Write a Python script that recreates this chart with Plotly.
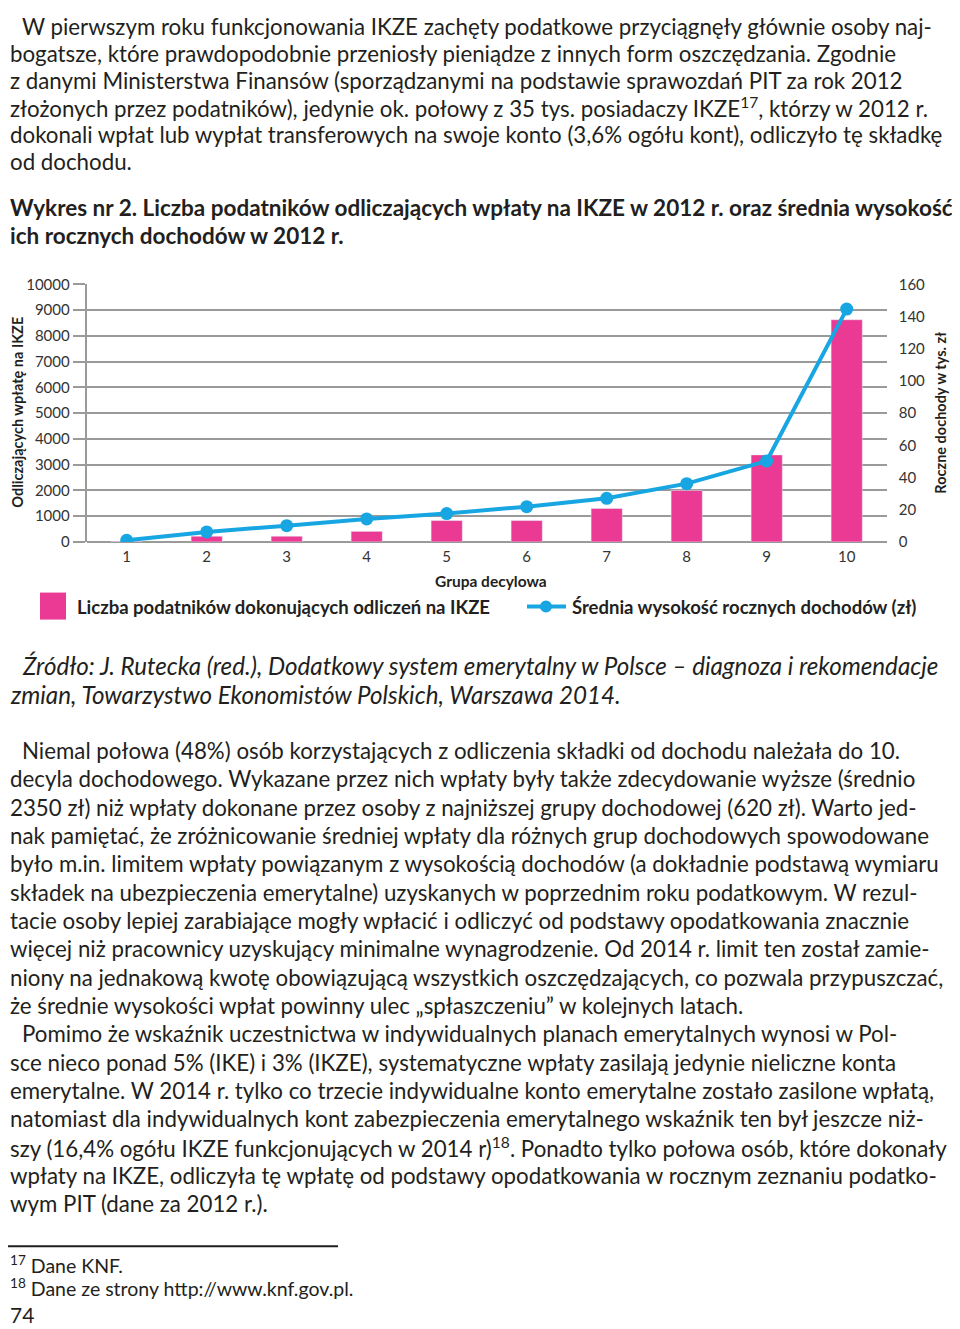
import plotly.graph_objects as go

# Page coordinates below are pixels of the reference picture; they are mapped
# to paper coordinates (the page adds an 8px left offset and the photographed
# page is offset/compressed slightly in the vertical direction).
W, H = 952, 1329
X_OFF = 8
Y_OFF, Y_SCALE = 18.1, 0.987

# ---------------- data ----------------
deciles = [1, 2, 3, 4, 5, 6, 7, 8, 9, 10]
decile_labels = ["1", "2", "3", "4", "5", "6", "7", "8", "9", "10"]
taxpayers = [20, 220, 220, 410, 830, 830, 1300, 2000, 3380, 8630]
income_k = [1.0, 6.2, 10.1, 14.3, 17.6, 21.9, 27.1, 36.2, 50.3, 144.7]

left_ticks = [0, 1000, 2000, 3000, 4000, 5000, 6000, 7000, 8000, 9000, 10000]
left_tick_labels = ["0", "1000", "2000", "3000", "4000", "5000", "6000", "7000", "8000", "9000", "10000"]
right_ticks = [0, 20, 40, 60, 80, 100, 120, 140, 160]
right_tick_labels = ["0", "20", "40", "60", "80", "100", "120", "140", "160"]

bar_name = "Liczba podatników dokonujących odliczeń na IKZE"
line_name = "Średnia wysokość rocznych dochodów (zł)"
left_title = "Odliczających wpłatę na IKZE"
right_title = "Roczne dochody w tys. zł"
x_title = "Grupa decylowa"

para1 = [
    "W pierwszym roku funkcjonowania IKZE zachęty podatkowe przyciągnęły głównie osoby naj-",
    "bogatsze, które prawdopodobnie przeniosły pieniądze z innych form oszczędzania. Zgodnie",
    "z danymi Ministerstwa Finansów (sporządzanymi na podstawie sprawozdań PIT za rok 2012",
    "złożonych przez podatników), jedynie ok. połowy z 35 tys. posiadaczy IKZE<sup>17</sup>, którzy w 2012 r.",
    "dokonali wpłat lub wypłat transferowych na swoje konto (3,6% ogółu kont), odliczyło tę składkę",
    "od dochodu.",
]
title_lines = [
    "Wykres nr 2. Liczba podatników odliczających wpłaty na IKZE w 2012 r. oraz średnia wysokość",
    "ich rocznych dochodów w 2012 r.",
]
source_lines = [
    "Źródło: J. Rutecka (red.), Dodatkowy system emerytalny w Polsce – diagnoza i rekomendacje",
    "zmian, Towarzystwo Ekonomistów Polskich, Warszawa 2014.",
]
para2 = [
    "Niemal połowa (48%) osób korzystających z odliczenia składki od dochodu należała do 10.",
    "decyla dochodowego. Wykazane przez nich wpłaty były także zdecydowanie wyższe (średnio",
    "2350 zł) niż wpłaty dokonane przez osoby z najniższej grupy dochodowej (620 zł). Warto jed-",
    "nak pamiętać, że zróżnicowanie średniej wpłaty dla różnych grup dochodowych spowodowane",
    "było m.in. limitem wpłaty powiązanym z wysokością dochodów (a dokładnie podstawą wymiaru",
    "składek na ubezpieczenia emerytalne) uzyskanych w poprzednim roku podatkowym. W rezul-",
    "tacie osoby lepiej zarabiające mogły wpłacić i odliczyć od podstawy opodatkowania znacznie",
    "więcej niż pracownicy uzyskujący minimalne wynagrodzenie. Od 2014 r. limit ten został zamie-",
    "niony na jednakową kwotę obowiązującą wszystkich oszczędzających, co pozwala przypuszczać,",
    "że średnie wysokości wpłat powinny ulec „spłaszczeniu” w kolejnych latach.",
    "Pomimo że wskaźnik uczestnictwa w indywidualnych planach emerytalnych wynosi w Pol-",
    "sce nieco ponad 5% (IKE) i 3% (IKZE), systematyczne wpłaty zasilają jedynie nieliczne konta",
    "emerytalne. W 2014 r. tylko co trzecie indywidualne konto emerytalne zostało zasilone wpłatą,",
    "natomiast dla indywidualnych kont zabezpieczenia emerytalnego wskaźnik ten był jeszcze niż-",
    "szy (16,4% ogółu IKZE funkcjonujących w 2014 r)<sup>18</sup>. Ponadto tylko połowa osób, które dokonały",
    "wpłaty na IKZE, odliczyła tę wpłatę od podstawy opodatkowania w rocznym zeznaniu podatko-",
    "wym PIT (dane za 2012 r.).",
]
footnotes = [
    "<sup>17</sup> Dane KNF.",
    "<sup>18</sup> Dane ze strony http://www.knf.gov.pl.",
]
page_no = "74"

# ---------------- styling ----------------
PINK = "#EA3A93"
BLUE = "#18A6E3"
GRID = "#9A9A9A"
TXT = "#231F20"
TICK = "#333333"
FONT = "Lato"


def py(ref_y):
    return 1 - ((ref_y - Y_OFF) / Y_SCALE) / H


def pxx(ref_x):
    return (ref_x - X_OFF) / W


fig = go.Figure()
fig.add_trace(go.Bar(
    x=deciles, y=taxpayers, name=bar_name, marker_color=PINK,
    width=0.39, yaxis="y", showlegend=False,
))
fig.add_trace(go.Scatter(
    x=deciles, y=income_k, name=line_name, mode="lines+markers",
    line=dict(color=BLUE, width=4), marker=dict(size=13, color=BLUE),
    yaxis="y2", showlegend=False,
))

x0, x1 = 86.7, 886.7
ytop, ybot = 284.7, 542.3

fig.update_layout(
    width=W, height=H, margin=dict(l=0, r=0, t=0, b=0),
    paper_bgcolor="white", plot_bgcolor="white",
    font=dict(family=FONT, color=TXT),
    xaxis=dict(
        domain=[pxx(x0), pxx(x1)], range=[0.5, 10.5],
        tickmode="array", tickvals=deciles, ticktext=decile_labels,
        showgrid=False, zeroline=False, showline=False, ticks="",
        tickfont=dict(size=15, color=TICK), ticklabelstandoff=4,
    ),
    yaxis=dict(
        domain=[py(ybot), py(ytop)], range=[0, 10000],
        tickmode="array", tickvals=left_ticks, ticktext=left_tick_labels,
        showgrid=True, gridcolor=GRID, gridwidth=1.6,
        zeroline=True, zerolinecolor=GRID, zerolinewidth=2,
        showline=True, linecolor=GRID, linewidth=2,
        ticks="outside", ticklen=12, tickcolor=GRID, tickwidth=1.6,
        tickfont=dict(size=15, color=TICK),
    ),
    yaxis2=dict(
        overlaying="y", side="right", range=[0, 160],
        tickmode="array", tickvals=right_ticks, ticktext=right_tick_labels,
        showgrid=False, zeroline=False, showline=False, ticks="",
        tickfont=dict(size=15, color=TICK), ticklabelstandoff=11,
    ),
    bargap=0.6,
)

ann = []


def add_text(text, x, y, size, bold=False, italic=False, xanchor="left", angle=0, color=TXT):
    t = text
    if bold:
        t = "<b>" + t + "</b>"
    if italic:
        t = "<i>" + t + "</i>"
    ann.append(dict(
        text=t, x=pxx(x), y=py(y), xref="paper", yref="paper",
        xanchor=xanchor, yanchor="middle", showarrow=False, textangle=angle,
        font=dict(family=FONT, size=size, color=color),
    ))


BODY = 22.3
LEFT = 8

# first paragraph: starts as high as the page allows
for i, line in enumerate(para1):
    add_text(line, 20 if i == 0 else LEFT, 26.5 + 27 * i, BODY)

for i, line in enumerate(title_lines):
    add_text(line, LEFT, 208 + 28 * i, 22.5, bold=True)

add_text(left_title, 18, 413, 14.5, bold=True, xanchor="center", angle=-90)
add_text(right_title, 941, 413, 14.5, bold=True, xanchor="center", angle=-90)
add_text(x_title, 491, 581, 15.5, bold=True, xanchor="center")

# legend
fig.add_shape(type="rect", xref="paper", yref="paper",
              x0=pxx(40), x1=pxx(66), y0=py(620), y1=py(593),
              fillcolor=PINK, line=dict(width=0))
add_text(bar_name, 75, 607, 18.5, bold=True)
fig.add_shape(type="line", xref="paper", yref="paper",
              x0=pxx(527), x1=pxx(566), y0=py(607), y1=py(607),
              line=dict(color=BLUE, width=4))
fig.add_shape(type="circle", xref="paper", yref="paper",
              x0=pxx(540), x1=pxx(552), y0=py(613), y1=py(601),
              fillcolor=BLUE, line=dict(width=0))
add_text(line_name, 570, 607, 18.5, bold=True)

for i, line in enumerate(source_lines):
    add_text(line, 20 if i == 0 else LEFT, 666 + 29 * i, 24.2, italic=True)

for i, line in enumerate(para2):
    add_text(line, 20 if i in (0, 10) else LEFT, 751 + 28.35 * i, BODY)

fig.add_shape(type="line", xref="paper", yref="paper",
              x0=pxx(LEFT), x1=pxx(338), y0=py(1247), y1=py(1247),
              line=dict(color=TXT, width=2))
for i, line in enumerate(footnotes):
    add_text(line, LEFT, 1265 + 23 * i, 19.5)
add_text(page_no, LEFT, 1315, 21)

fig.update_layout(annotations=ann)
fig.write_html("out.html")
